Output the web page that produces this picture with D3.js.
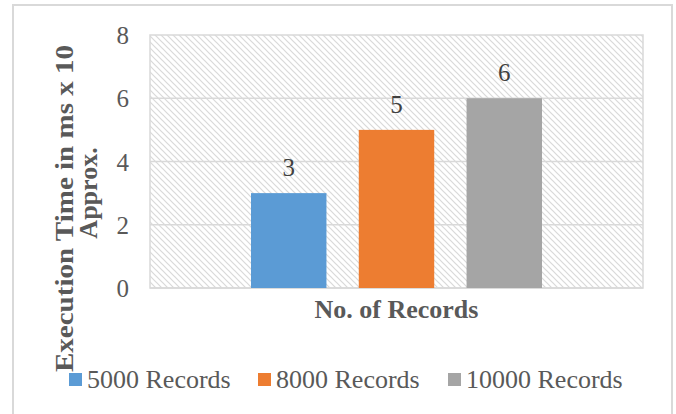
<!DOCTYPE html>
<html>
<head>
<meta charset="utf-8">
<script src="https://cdn.jsdelivr.net/npm/d3@7"></script>
<style>
  html, body { margin: 0; padding: 0; background: #fff; }
  svg { display: block; }
  text { font-family: "Liberation Serif", "Times New Roman", serif; }
</style>
</head>
<body>
<svg id="chart" width="676" height="414"></svg>
<script>
const series = ["5000 Records", "8000 Records", "10000 Records"];
const values = [3, 5, 6];
const colors = ["#5B9BD5", "#ED7D31", "#A5A5A5"];
const yTicks = [0, 2, 4, 6, 8];
const xTitle = "No. of Records";
const yTitleLines = ["Execution Time in ms x 10", "Approx."];

const W = 676, H = 414;
const plot = { left: 150, top: 35, right: 643, bottom: 288 };
const svg = d3.select("#chart");

// hatch pattern
const defs = svg.append("defs");
const pat = defs.append("pattern")
  .attr("id", "hatch").attr("patternUnits", "userSpaceOnUse")
  .attr("width", 6).attr("height", 6);
pat.append("rect").attr("width", 6).attr("height", 6).attr("fill", "#fff");
pat.append("path")
  .attr("d", "M-1,-1 L7,7 M-1,5 L1,7 M5,-1 L7,1")
  .attr("stroke", "#d9d9d9").attr("stroke-width", 1.2).attr("fill", "none");

// outer border
svg.append("rect").attr("x", 13).attr("y", 5).attr("width", 659).attr("height", 420)
  .attr("fill", "#fff").attr("stroke", "#d9d9d9").attr("stroke-width", 2);

const y = d3.scaleLinear().domain([0, 8]).range([plot.bottom, plot.top]);
const cx = (plot.left + plot.right) / 2;
const groupW = 291;
const x = d3.scaleBand().domain(series).range([cx - groupW / 2, cx + groupW / 2]).paddingInner(0.3);

// plot area
svg.append("rect").attr("x", plot.left).attr("y", plot.top)
  .attr("width", plot.right - plot.left).attr("height", plot.bottom - plot.top)
  .attr("fill", "url(#hatch)").attr("stroke", "#d9d9d9").attr("stroke-width", 1.5);

// gridlines
svg.append("g").selectAll("line").data(yTicks.filter(d => d > 0 && d < 8)).join("line")
  .attr("x1", plot.left).attr("x2", plot.right)
  .attr("y1", d => y(d)).attr("y2", d => y(d))
  .attr("stroke", "#d9d9d9").attr("stroke-width", 1.5);

// y axis
const yAxis = d3.axisLeft(y).tickValues(yTicks).tickSize(0).tickPadding(0).tickFormat(d3.format("d"));
const gy = svg.append("g").attr("transform", `translate(129,0)`).call(yAxis);
gy.attr("font-family", null);
gy.select(".domain").remove();
gy.selectAll("text").attr("font-size", 25).attr("fill", "#595959").attr("dy", "0.34em");

// baseline
svg.append("line").attr("x1", plot.left).attr("x2", plot.right)
  .attr("y1", y(0)).attr("y2", y(0)).attr("stroke", "#d9d9d9").attr("stroke-width", 1.5);

// bars
svg.append("g").selectAll("rect").data(series).join("rect")
  .attr("x", d => x(d)).attr("width", x.bandwidth())
  .attr("y", (d, i) => y(values[i])).attr("height", (d, i) => y(0) - y(values[i]))
  .attr("fill", (d, i) => colors[i]);

// data labels
svg.append("g").selectAll("text").data(series).join("text")
  .attr("x", d => x(d) + x.bandwidth() / 2)
  .attr("y", (d, i) => y(values[i]) - 17)
  .attr("text-anchor", "middle").attr("font-size", 25).attr("fill", "#404040")
  .text((d, i) => values[i]);

// x title
svg.append("text").attr("x", cx).attr("y", 318).attr("text-anchor", "middle")
  .attr("font-size", 26).attr("font-weight", "bold").attr("fill", "#595959").text(xTitle);

// y title
const yt = svg.append("g").attr("transform", "rotate(-90)");
yt.append("text").attr("x", -372).attr("y", 73)
  .attr("textLength", 327).attr("lengthAdjust", "spacingAndGlyphs")
  .attr("font-size", 26).attr("font-weight", "bold")
  .attr("fill", "#595959").text(yTitleLines[0]);
yt.append("text").attr("x", -193).attr("y", 97)
  .attr("text-anchor", "middle").attr("font-size", 26).attr("font-weight", "bold")
  .attr("fill", "#595959").text(yTitleLines[1]);

// legend
const legendX = [69, 258, 448];
const lg = svg.append("g").selectAll("g").data(series).join("g")
  .attr("transform", (d, i) => `translate(${legendX[i]},0)`);
lg.append("rect").attr("x", 0).attr("y", 373).attr("width", 13).attr("height", 13)
  .attr("fill", (d, i) => colors[i]);
lg.append("text").attr("x", 18).attr("y", 388).attr("font-size", 26).attr("fill", "#595959")
  .text(d => d);
</script>
</body>
</html>
